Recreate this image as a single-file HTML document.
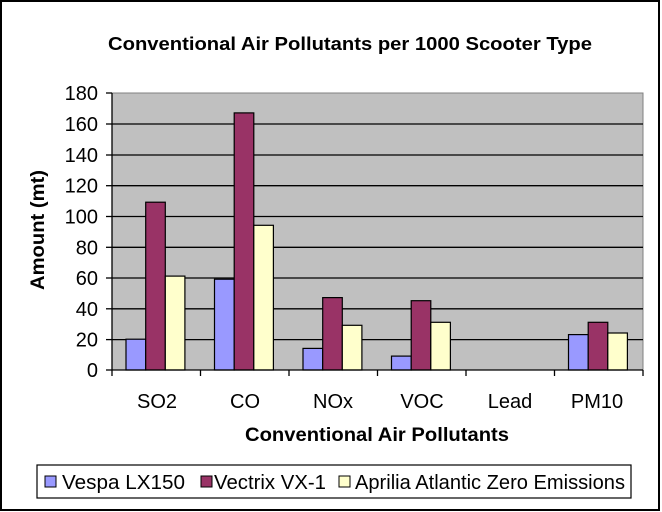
<!DOCTYPE html>
<html><head><style>
html,body{margin:0;padding:0;background:#fff;}
svg{display:block;}
text{font-family:"Liberation Sans",Arial,sans-serif;fill:#000;}
</style></head><body>
<svg width="662" height="512" viewBox="0 0 662 512" xmlns="http://www.w3.org/2000/svg">
<rect x="0" y="0" width="662" height="512" fill="#fff"/>
<rect x="1" y="1" width="658" height="509" fill="none" stroke="#000" stroke-width="2"/>
<text x="108" y="50" font-size="18" font-weight="bold" textLength="484" lengthAdjust="spacingAndGlyphs">Conventional Air Pollutants per 1000 Scooter Type</text>
<rect x="112" y="93" width="531" height="277" fill="#c0c0c0" stroke="#808080" stroke-width="1"/>
<g stroke="#000" stroke-width="1.3">
<line x1="112" x2="643" y1="124" y2="124"/>
<line x1="112" x2="643" y1="155" y2="155"/>
<line x1="112" x2="643" y1="185.7" y2="185.7"/>
<line x1="112" x2="643" y1="216.5" y2="216.5"/>
<line x1="112" x2="643" y1="247.3" y2="247.3"/>
<line x1="112" x2="643" y1="278" y2="278"/>
<line x1="112" x2="643" y1="308.8" y2="308.8"/>
<line x1="112" x2="643" y1="339.6" y2="339.6"/>
</g>
<g stroke="#000" stroke-width="1.2">
<rect x="126" y="339.2" width="19.7" height="30.8" fill="#9999ff"/>
<rect x="145.7" y="202.2" width="19.6" height="167.8" fill="#993366"/>
<rect x="165.3" y="276.1" width="19.6" height="93.9" fill="#ffffcc"/>
<rect x="214.5" y="279.2" width="19.7" height="90.8" fill="#9999ff"/>
<rect x="234.2" y="112.9" width="19.6" height="257.1" fill="#993366"/>
<rect x="253.8" y="225.3" width="19.6" height="144.7" fill="#ffffcc"/>
<rect x="303" y="348.4" width="19.7" height="21.6" fill="#9999ff"/>
<rect x="322.7" y="297.6" width="19.6" height="72.4" fill="#993366"/>
<rect x="342.3" y="325.3" width="19.6" height="44.7" fill="#ffffcc"/>
<rect x="391.5" y="356.1" width="19.7" height="13.9" fill="#9999ff"/>
<rect x="411.2" y="300.7" width="19.6" height="69.3" fill="#993366"/>
<rect x="430.8" y="322.3" width="19.6" height="47.7" fill="#ffffcc"/>
<rect x="568.5" y="334.6" width="19.7" height="35.4" fill="#9999ff"/>
<rect x="588.2" y="322.3" width="19.6" height="47.7" fill="#993366"/>
<rect x="607.8" y="333" width="19.6" height="37" fill="#ffffcc"/>
</g>
<g stroke="#000" stroke-width="1.3">
<line x1="112" y1="93" x2="112" y2="370"/>
<line x1="112" y1="370" x2="643" y2="370"/>
<line x1="106" y1="93" x2="112" y2="93"/>
<line x1="106" y1="124" x2="112" y2="124"/>
<line x1="106" y1="155" x2="112" y2="155"/>
<line x1="106" y1="185.7" x2="112" y2="185.7"/>
<line x1="106" y1="216.5" x2="112" y2="216.5"/>
<line x1="106" y1="247.3" x2="112" y2="247.3"/>
<line x1="106" y1="278" x2="112" y2="278"/>
<line x1="106" y1="308.8" x2="112" y2="308.8"/>
<line x1="106" y1="339.6" x2="112" y2="339.6"/>
<line x1="106" y1="370" x2="112" y2="370"/>
<line x1="112" y1="370" x2="112" y2="376"/>
<line x1="200.5" y1="370" x2="200.5" y2="376"/>
<line x1="289" y1="370" x2="289" y2="376"/>
<line x1="377.5" y1="370" x2="377.5" y2="376"/>
<line x1="466" y1="370" x2="466" y2="376"/>
<line x1="554.5" y1="370" x2="554.5" y2="376"/>
<line x1="643" y1="370" x2="643" y2="376"/>
</g>
<g font-size="20" text-anchor="end">
<text x="98" y="100">180</text>
<text x="98" y="131">160</text>
<text x="98" y="162">140</text>
<text x="98" y="192.7">120</text>
<text x="98" y="223.5">100</text>
<text x="98" y="254.3">80</text>
<text x="98" y="285">60</text>
<text x="98" y="315.8">40</text>
<text x="98" y="346.6">20</text>
<text x="98" y="377">0</text>
</g>
<g font-size="20" text-anchor="middle">
<text x="157" y="408">SO2</text>
<text x="245" y="408">CO</text>
<text x="333" y="408">NOx</text>
<text x="422" y="408">VOC</text>
<text x="510" y="408">Lead</text>
<text x="597" y="408">PM10</text>
</g>
<text x="245" y="441" font-size="19" font-weight="bold" textLength="264" lengthAdjust="spacingAndGlyphs">Conventional Air Pollutants</text>
<text transform="translate(44,290) rotate(-90)" font-size="19" font-weight="bold" textLength="120" lengthAdjust="spacingAndGlyphs">Amount (mt)</text>
<rect x="37" y="465" width="594" height="33" fill="#fff" stroke="#000" stroke-width="1.2"/>
<g stroke="#000" stroke-width="1">
<rect x="45" y="476" width="11" height="11" fill="#9999ff"/>
<rect x="201" y="476" width="11" height="11" fill="#993366"/>
<rect x="339" y="476" width="11" height="11" fill="#ffffcc"/>
</g>
<g font-size="20">
<text x="62" y="489" textLength="123" lengthAdjust="spacingAndGlyphs">Vespa LX150</text>
<text x="214" y="489" textLength="112" lengthAdjust="spacingAndGlyphs">Vectrix VX-1</text>
<text x="355" y="489" textLength="270" lengthAdjust="spacingAndGlyphs">Aprilia Atlantic Zero Emissions</text>
</g>
</svg>
</body></html>
